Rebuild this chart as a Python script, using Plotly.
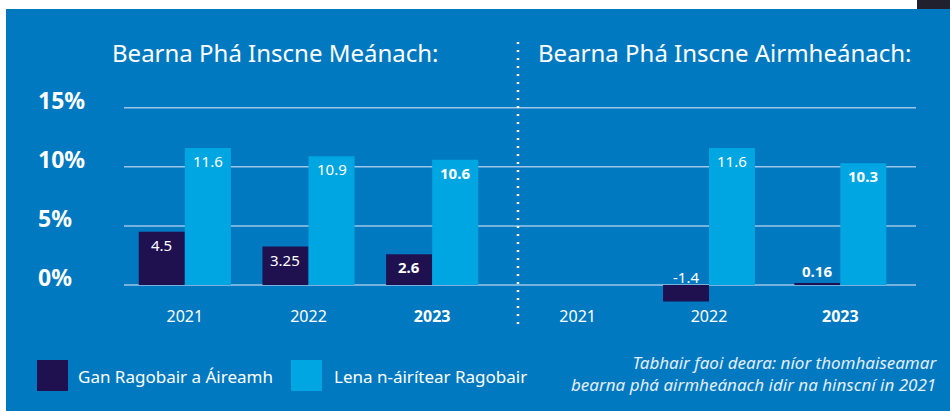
import plotly.graph_objects as go

# ---------------- data ----------------
years = ["2021", "2022", "2023"]
median_excl = [4.5, 3.25, 2.6]        # Gan Ragobair a Áireamh (meánach)
median_incl = [11.6, 10.9, 10.6]      # Lena n-áirítear Ragobair (meánach)
mean_excl = [None, -1.4, 0.16]        # Gan Ragobair a Áireamh (airmheánach)
mean_incl = [None, 11.6, 10.3]        # Lena n-áirítear Ragobair (airmheánach)
y_tick_vals = [0, 5, 10, 15]
y_tick_labels = ["0%", "5%", "10%", "15%"]
x_tick_labels = ["2021", "2022", "<b>2023</b>"]
bold_year = "2023"
series_names = ["Gan Ragobair a Áireamh", "Lena n-áirítear Ragobair"]
panel_titles = ["Bearna Phá Inscne Meánach:", "Bearna Phá Inscne Airmheánach:"]
note_text = ("Tabhair faoi deara: níor thomhaiseamar<br>"
             "bearna phá airmheánach idir na hinscní in 2021")

# ---------------- style ----------------
W, H = 950, 411
BLUE = "#0079C1"
LIGHT = "#00A6E2"
DARK = "#1F1150"
GRID = "rgba(185,212,238,0.85)"
FONT = "Noto Sans"


def px(x):
    return x / W


def py(y):
    return 1 - y / H


fig = go.Figure()

panels = [
    ("x", median_excl, median_incl, 46 / 123.5),
    ("x2", mean_excl, mean_incl, 46 / 131.5),
]
annotations = []
for axname, excl, incl, w in panels:
    fig.add_trace(go.Bar(x=years, y=excl, name=series_names[0],
                         marker=dict(color=DARK, line=dict(width=0)),
                         width=w, offset=-w, xaxis=axname, yaxis="y",
                         showlegend=False, hoverinfo="skip"))
    fig.add_trace(go.Bar(x=years, y=incl, name=series_names[1],
                         marker=dict(color=LIGHT, line=dict(width=0)),
                         width=w, offset=0, xaxis=axname, yaxis="y",
                         showlegend=False, hoverinfo="skip"))
    for vals, sign in ((excl, -1), (incl, 1)):
        for i, (yr, v) in enumerate(zip(years, vals)):
            if v is None:
                continue
            txt = str(v)
            if yr == bold_year:
                txt = "<b>" + txt + "</b>"
            if v >= 1:
                yy, ys = v, -13
            elif v > 0:
                yy, ys = v, 12
            else:
                yy, ys = 0, 8
            annotations.append(dict(x=i + sign * w / 2, y=yy, xref=axname, yref="y",
                                    text=txt, showarrow=False, yshift=ys,
                                    xanchor="center",
                                    font=dict(family=FONT, size=15, color="white")))

axis_common = dict(type="category", categoryorder="array", categoryarray=years,
                   tickvals=years, ticktext=x_tick_labels, range=[-0.5, 2.5],
                   showgrid=False, zeroline=False, showline=False, ticks="",
                   tickfont=dict(family=FONT, size=16, color="white"),
                   fixedrange=True, automargin=False)

fig.update_layout(
    width=W, height=H,
    margin=dict(l=0, r=0, t=0, b=0),
    paper_bgcolor=BLUE, plot_bgcolor="rgba(0,0,0,0)",
    barmode="overlay",
    xaxis=dict(domain=[px(123), px(494)], anchor="y", **axis_common),
    xaxis2=dict(domain=[px(512), px(906)], anchor="y", **axis_common),
    yaxis=dict(domain=[py(305), py(96)], range=[-1.7, 16], showgrid=False,
               zeroline=False, showticklabels=False, fixedrange=True,
               automargin=False),
    showlegend=False,
)

shapes = []
# gridlines
for v in y_tick_vals:
    shapes.append(dict(type="line", xref="paper", yref="y", x0=px(124), x1=px(916),
                       y0=v, y1=v, line=dict(color=GRID, width=1.5), layer="below"))
# dotted divider
shapes.append(dict(type="line", xref="paper", yref="paper", x0=px(518), x1=px(518),
                   y0=py(42), y1=py(324),
                   line=dict(color="white", width=2.5, dash="2px,6px")))
# white frame strips & corner image
shapes.append(dict(type="rect", xref="paper", yref="paper", x0=0, x1=1, y0=py(9), y1=1,
                   fillcolor="white", line=dict(width=0)))
shapes.append(dict(type="rect", xref="paper", yref="paper", x0=0, x1=px(6), y0=0, y1=1,
                   fillcolor="white", line=dict(width=0)))
shapes.append(dict(type="rect", xref="paper", yref="paper", x0=px(917), x1=1, y0=py(9),
                   y1=1, fillcolor="#20202e", line=dict(width=0)))
# legend swatches
for x0, col in ((37, DARK), (291, LIGHT)):
    shapes.append(dict(type="rect", xref="paper", yref="paper", x0=px(x0), x1=px(x0 + 31),
                       y0=py(391), y1=py(360), fillcolor=col, line=dict(width=0)))

# y tick labels
for v, lab in zip(y_tick_vals, y_tick_labels):
    annotations.append(dict(x=px(36), y=v, xref="paper", yref="y", text="<b>" + lab + "</b>",
                            xanchor="left", showarrow=False, yshift=8,
                            font=dict(family=FONT, size=23, color="white")))
# panel titles
for cx, t in ((275, panel_titles[0]), (725, panel_titles[1])):
    annotations.append(dict(x=px(cx), y=py(52), xref="paper", yref="paper", text=t,
                            xanchor="center", yanchor="middle", showarrow=False,
                            font=dict(family=FONT, size=24, color="white")))
# legend texts
for x0, name in ((76, series_names[0]), (332, series_names[1])):
    annotations.append(dict(x=px(x0), y=py(376), xref="paper", yref="paper", text=name,
                            xanchor="left", yanchor="middle", showarrow=False,
                            font=dict(family=FONT, size=17, color="white")))
# note
annotations.append(dict(x=px(939), y=py(373), xref="paper", yref="paper",
                        text="<i>" + note_text + "</i>", xanchor="right", align="right",
                        yanchor="middle", showarrow=False,
                        font=dict(family=FONT, size=17, color="#e3eef9")))

fig.update_layout(shapes=shapes, annotations=annotations)
fig.write_html("out.html", config={"displayModeBar": False},
               post_script="document.body.style.margin='0';document.body.style.overflow='hidden';")
